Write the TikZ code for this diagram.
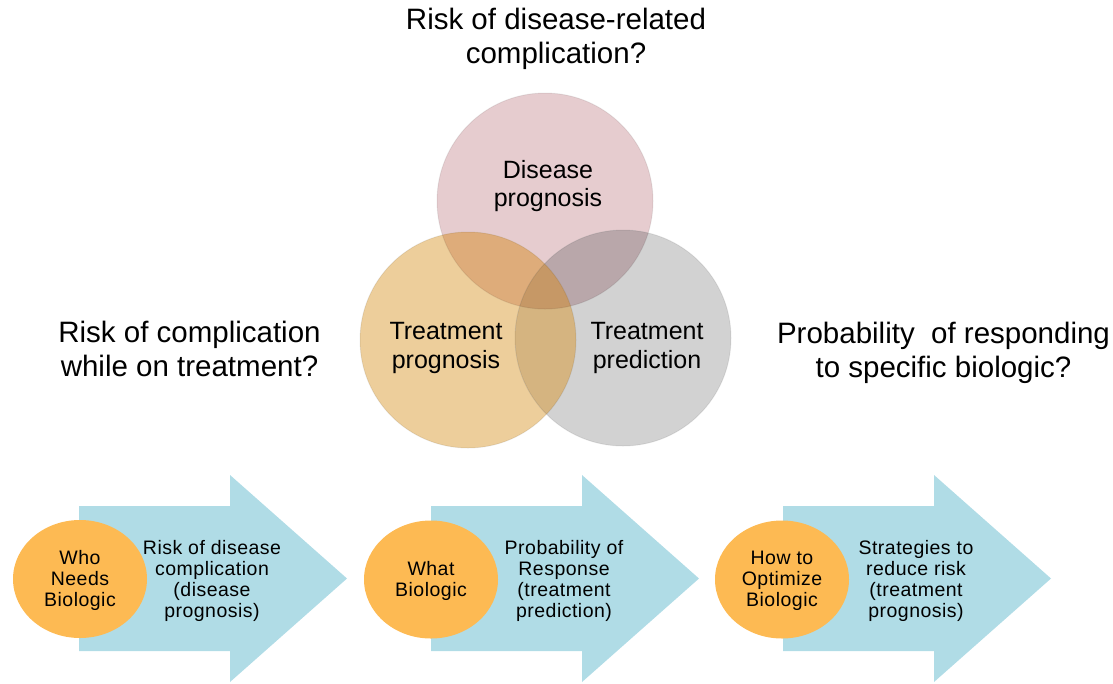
\documentclass[tikz,border=0pt]{standalone}
\usepackage{fontspec}
\setmainfont{Liberation Sans}
\newfontfamily\smallsp[LetterSpace=2.5]{Liberation Sans}
\usetikzlibrary{shapes.geometric}
\definecolor{arrowblue}{RGB}{176,220,230}
\definecolor{ellorange}{RGB}{253,186,83}
\definecolor{cpink}{RGB}{230,204,207}
\definecolor{corange}{RGB}{237,206,155}
\definecolor{cgray}{RGB}{210,210,210}
\definecolor{cTL}{RGB}{222,172,122}
\definecolor{cTR}{RGB}{185,167,170}
\definecolor{cLR}{RGB}{213,180,128}
\definecolor{cMID}{RGB}{198,152,102}
\begin{document}
\begin{tikzpicture}[x=1pt,y=-1pt,
  big/.style={align=center,inner sep=0pt,font=\fontsize{29.5}{34}\selectfont},
  clabel/.style={align=center,inner sep=0pt,font=\fontsize{25}{28.5}\selectfont},
  small/.style={align=center,inner sep=0pt,font=\smallsp\fontsize{19.5}{21}\selectfont},
  venn/.style={circle,minimum size=216pt,inner sep=0pt},
  rim/.style={draw=black,draw opacity=0.07,line width=1pt},
  oval/.style={ellipse,fill=ellorange,minimum width=134pt,minimum height=118pt,inner sep=0pt},
  flow/.style={fill=arrowblue}
]
\useasboundingbox (0,0) rectangle (1113,683);
% questions
\node[big] (q1) at (556,39) {Risk of disease-related\\complication?};
\node[big] (q2) at (189.5,348.5) {Risk of complication\\while on treatment?};
\node[big] (q3) at (943.5,352.5) {Probability\ \ of responding\\to specific biologic?};
% venn
\node[venn,fill=cpink] (cdis) at (545,201) {};
\node[venn,fill=corange] (ctp) at (468,340) {};
\node[venn,fill=cgray] (ctr) at (623,338) {};
\begin{scope}
  \clip (cdis.center) circle (108pt);
  \fill[cTL] (ctp.center) circle (108pt);
  \fill[cTR] (ctr.center) circle (108pt);
\end{scope}
\begin{scope}
  \clip (ctp.center) circle (108pt);
  \fill[cLR] (ctr.center) circle (108pt);
  \clip (ctr.center) circle (108pt);
  \fill[cMID] (cdis.center) circle (108pt);
\end{scope}
\draw[rim] (cdis.center) circle (108pt);
\draw[rim] (ctp.center) circle (108pt);
\draw[rim] (ctr.center) circle (108pt);
\node[clabel] (ldis) at (548,186) {Disease\\prognosis};
\node[clabel] (ltp) at (446,348) {Treatment\\prognosis};
\node[clabel] (ltr) at (647,348) {Treatment\\prediction};
% arrows
\foreach \x in {79,431,783}{
  \fill[flow] (\x,506) -- (\x+151,506) -- (\x+151,475) -- (\x+268,578.5)
    -- (\x+151,682) -- (\x+151,651) -- (\x,651) -- cycle;
}
\node[oval] (o1) at (80,579) {};
\node[oval] (o2) at (431,579.5) {};
\node[oval] (o3) at (782,579.5) {};
\node[small] (e1) at (80,580) {Who\\Needs\\Biologic};
\node[small] (e2) at (431,581) {What\\Biologic};
\node[small] (e3) at (782,581) {How to\\Optimize\\Biologic};
\node[small] (a1) at (212,581) {Risk of disease\\complication\\(disease\\prognosis)};
\node[small] (a2) at (564,581) {Probability of\\Response\\(treatment\\prediction)};
\node[small] (a3) at (916,581) {Strategies to\\reduce risk\\(treatment\\prognosis)};
\end{tikzpicture}
\end{document}
